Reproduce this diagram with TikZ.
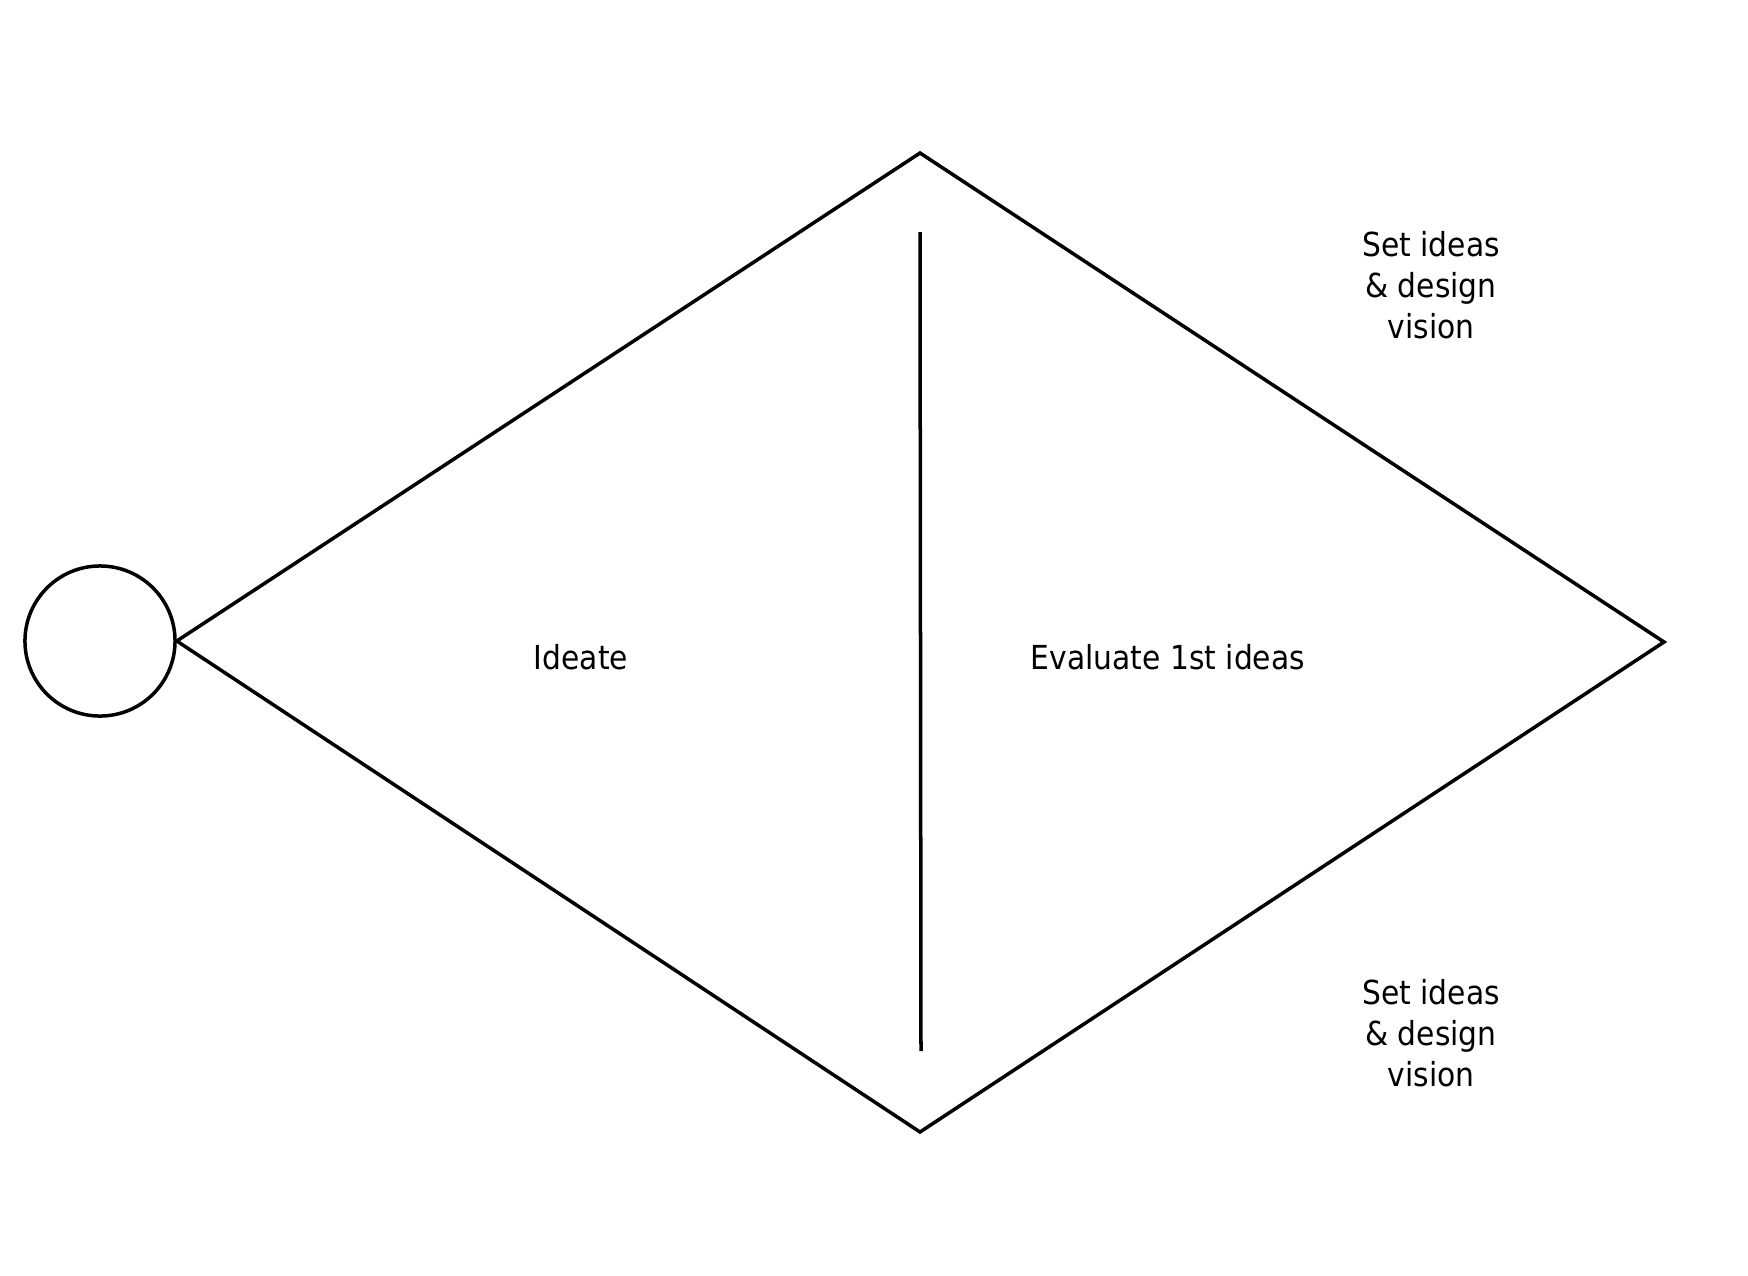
\documentclass[tikz,border=0pt]{standalone}
\usepackage{fontspec}
\setmainfont{DejaVu Sans Condensed}
\begin{document}
\begin{tikzpicture}[x=0.01cm, y=-0.01cm, line width=0.035cm,
    label/.style={font=\fontsize{9.4}{11.7}\selectfont, align=center}]
    \useasboundingbox (0,0) rectangle (1748,1275);
    % Nodes
    \node[draw, circle, minimum size=1.5cm, inner sep=0pt] (start) at (100,641) {};
    \coordinate (top) at (920,153);
    \coordinate (right) at (1664,642);
    \coordinate (bottom) at (920,1132);
    \coordinate (divtop) at (920,232);
    \coordinate (divbot) at (921,1051);
    \node[label] (ideate) at (581,657) {Ideate};
    \node[label] (evaluate) at (1168,657) {Evaluate 1st ideas};
    \node[label] (setup) at (1431,285) {Set ideas\\\& design\\vision};
    \node[label] (setdown) at (1431,1033) {Set ideas\\\& design\\vision};

    % Diamond and divider
    \draw[line join=miter] (start.east) -- (top) -- (right) -- (bottom) -- cycle;
    \draw (divtop) -- (divbot);
\end{tikzpicture}
\end{document}
